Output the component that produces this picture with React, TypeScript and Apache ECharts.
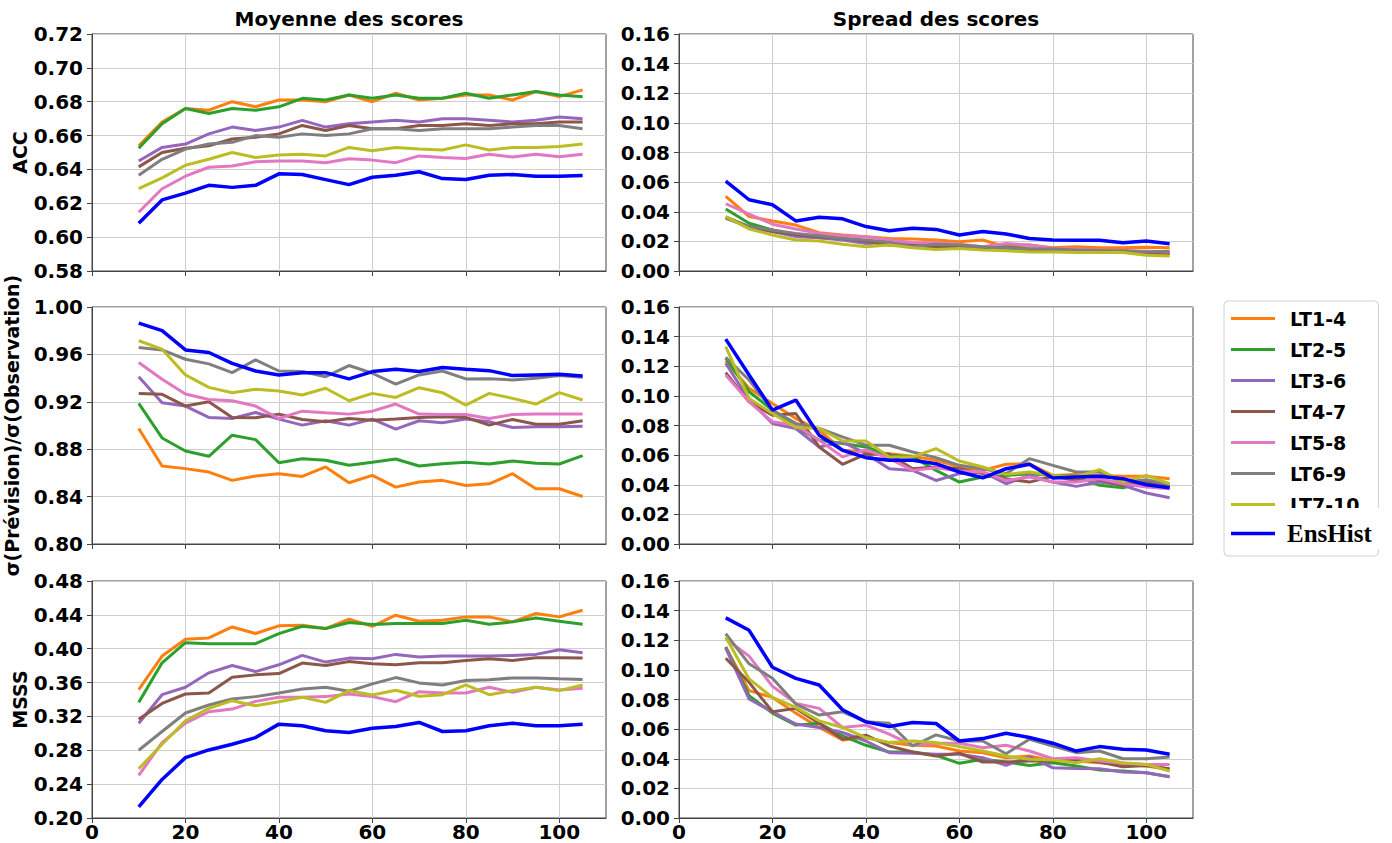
import React, { useEffect, useRef } from "react";
import * as echarts from "echarts";

const leadTimes = [10, 15, 20, 25, 30, 35, 40, 45, 50, 55, 60, 65, 70, 75, 80, 85, 90, 95, 100, 105];
const seriesNames = ["LT1-4", "LT2-5", "LT3-6", "LT4-7", "LT5-8", "LT6-9", "LT7-10", "EnsHist"];
const seriesColors = ["#ff7f0e", "#2ca02c", "#9467bd", "#8c564b", "#e377c2", "#7f7f7f", "#bcbd22", "#0000ff"];
const columnTitles = ["Moyenne des scores", "Spread des scores"];
const rowLabels = ["ACC", "σ(Prévision)/σ(Observation)", "MSSS"];

// rows follow seriesNames order
const accMean = [
  [0.654, 0.668, 0.676, 0.675, 0.680, 0.677, 0.681, 0.681, 0.680, 0.684, 0.680, 0.685, 0.681, 0.682, 0.684, 0.684, 0.681, 0.686, 0.683, 0.687],
  [0.6525, 0.667, 0.676, 0.673, 0.676, 0.675, 0.677, 0.682, 0.681, 0.684, 0.682, 0.684, 0.682, 0.682, 0.685, 0.682, 0.684, 0.686, 0.684, 0.683],
  [0.645, 0.653, 0.655, 0.661, 0.665, 0.663, 0.665, 0.669, 0.665, 0.667, 0.668, 0.669, 0.668, 0.670, 0.670, 0.669, 0.668, 0.669, 0.671, 0.670],
  [0.6415, 0.650, 0.6525, 0.654, 0.658, 0.659, 0.661, 0.666, 0.663, 0.666, 0.664, 0.664, 0.666, 0.666, 0.667, 0.666, 0.667, 0.667, 0.668, 0.668],
  [0.6147, 0.6286, 0.636, 0.6413, 0.642, 0.6445, 0.645, 0.645, 0.644, 0.6463, 0.6455, 0.644, 0.648, 0.647, 0.6465, 0.649, 0.6473, 0.649, 0.6475, 0.649],
  [0.6366, 0.646, 0.652, 0.655, 0.656, 0.660, 0.659, 0.661, 0.660, 0.661, 0.664, 0.664, 0.663, 0.664, 0.664, 0.664, 0.665, 0.666, 0.666, 0.664],
  [0.6286, 0.635, 0.6425, 0.646, 0.650, 0.647, 0.6485, 0.649, 0.648, 0.653, 0.651, 0.653, 0.652, 0.6515, 0.6545, 0.6515, 0.653, 0.653, 0.6535, 0.655],
  [0.6082, 0.622, 0.626, 0.6306, 0.6294, 0.6306, 0.6374, 0.637, 0.634, 0.631, 0.6354, 0.6366, 0.6386, 0.6346, 0.634, 0.6366, 0.637, 0.636, 0.636, 0.6364],
];

const accSpread = [
  [0.0504, 0.0368, 0.0338, 0.031, 0.0259, 0.0243, 0.0232, 0.022, 0.0216, 0.0209, 0.0198, 0.0209, 0.0163, 0.0175, 0.0157, 0.0163, 0.0157, 0.0157, 0.016, 0.0157],
  [0.0418, 0.0322, 0.0277, 0.0243, 0.0225, 0.0216, 0.0202, 0.0198, 0.0175, 0.0163, 0.0157, 0.0152, 0.0163, 0.0148, 0.0148, 0.0141, 0.0138, 0.0134, 0.0125, 0.0118],
  [0.0361, 0.0293, 0.0266, 0.0232, 0.0225, 0.0209, 0.0186, 0.0193, 0.018, 0.0175, 0.0163, 0.0152, 0.0157, 0.0148, 0.0141, 0.0134, 0.0134, 0.0129, 0.0125, 0.0118],
  [0.0365, 0.030, 0.0266, 0.0247, 0.0232, 0.022, 0.0202, 0.0175, 0.017, 0.0163, 0.0163, 0.0157, 0.0141, 0.0141, 0.0145, 0.0136, 0.0138, 0.0129, 0.0118, 0.0118],
  [0.0454, 0.0384, 0.0316, 0.0284, 0.0254, 0.0238, 0.0232, 0.0209, 0.0193, 0.0191, 0.018, 0.0163, 0.0186, 0.0175, 0.0152, 0.0148, 0.0141, 0.0138, 0.0134, 0.0129],
  [0.0356, 0.030, 0.0277, 0.0254, 0.0238, 0.022, 0.0209, 0.0193, 0.0163, 0.018, 0.0175, 0.0163, 0.0152, 0.0148, 0.0148, 0.0141, 0.0138, 0.0136, 0.0129, 0.0134],
  [0.0368, 0.0284, 0.0243, 0.0209, 0.0202, 0.018, 0.0163, 0.0175, 0.0157, 0.0145, 0.0152, 0.0141, 0.0136, 0.0129, 0.0129, 0.0125, 0.0125, 0.0125, 0.0107, 0.0102],
  [0.0606, 0.0481, 0.0447, 0.0338, 0.0363, 0.0352, 0.030, 0.0272, 0.0288, 0.0281, 0.0243, 0.0266, 0.025, 0.022, 0.0209, 0.0207, 0.0207, 0.0191, 0.0202, 0.0184],
];

const sigmaMean = [
  [0.8975, 0.8658, 0.8636, 0.8607, 0.8537, 0.8573, 0.8593, 0.857, 0.865, 0.8517, 0.8579, 0.848, 0.8523, 0.8537, 0.8494, 0.8508, 0.8593, 0.8466, 0.8466, 0.8401],
  [0.9186, 0.8895, 0.8785, 0.874, 0.8918, 0.8881, 0.8686, 0.872, 0.8706, 0.8664, 0.8689, 0.8717, 0.8658, 0.8678, 0.8689, 0.8675, 0.87, 0.8681, 0.8675, 0.8746],
  [0.9412, 0.9192, 0.9164, 0.9068, 0.9059, 0.911, 0.9054, 0.9003, 0.904, 0.9003, 0.9054, 0.8969, 0.904, 0.9023, 0.9054, 0.9031, 0.8983, 0.8989, 0.8989, 0.8994],
  [0.9271, 0.9263, 0.9164, 0.9201, 0.9068, 0.9065, 0.9096, 0.9051, 0.9031, 0.9059, 0.9045, 0.9054, 0.9068, 0.9073, 0.9068, 0.9003, 0.9051, 0.9011, 0.9011, 0.904],
  [0.9531, 0.939, 0.9266, 0.922, 0.9209, 0.9164, 0.9059, 0.9121, 0.9107, 0.9096, 0.9121, 0.9181, 0.9096, 0.9093, 0.9093, 0.9059, 0.9093, 0.9096, 0.9096, 0.9096],
  [0.9658, 0.9638, 0.9559, 0.952, 0.9446, 0.9554, 0.946, 0.9455, 0.9412, 0.9506, 0.9441, 0.935, 0.9427, 0.946, 0.9393, 0.9395, 0.9384, 0.9398, 0.9421, 0.9407],
  [0.9715, 0.9644, 0.9427, 0.9322, 0.9277, 0.9305, 0.9291, 0.9257, 0.9314, 0.9209, 0.9271, 0.9237, 0.9319, 0.9277, 0.9172, 0.9271, 0.9229, 0.9181, 0.9277, 0.9215],
  [0.9864, 0.980, 0.9638, 0.9616, 0.9525, 0.946, 0.9427, 0.9446, 0.9446, 0.9393, 0.9455, 0.9475, 0.9455, 0.9489, 0.9475, 0.9463, 0.9421, 0.9427, 0.9432, 0.9418],
];

const sigmaSpread = [
  [0.1236, 0.1051, 0.0949, 0.0847, 0.0768, 0.0633, 0.0621, 0.061, 0.0592, 0.0565, 0.052, 0.0497, 0.0538, 0.0542, 0.0463, 0.047, 0.0463, 0.0457, 0.0457, 0.0441],
  [0.1254, 0.1028, 0.0904, 0.0791, 0.0701, 0.0678, 0.0655, 0.0599, 0.0588, 0.0497, 0.0418, 0.0452, 0.0463, 0.0475, 0.0463, 0.0457, 0.0396, 0.038, 0.0418, 0.038],
  [0.122, 0.0972, 0.0814, 0.078, 0.0655, 0.0689, 0.061, 0.0508, 0.0497, 0.0429, 0.0475, 0.0486, 0.0407, 0.0463, 0.0418, 0.0389, 0.0418, 0.0396, 0.0344, 0.0312],
  [0.1157, 0.096, 0.087, 0.0881, 0.0655, 0.0538, 0.0606, 0.0606, 0.0508, 0.052, 0.0508, 0.0475, 0.0441, 0.0418, 0.0457, 0.0429, 0.0434, 0.0396, 0.0418, 0.0389],
  [0.1141, 0.096, 0.0825, 0.0802, 0.0701, 0.0588, 0.0637, 0.0576, 0.0497, 0.0515, 0.0493, 0.0486, 0.0429, 0.0452, 0.0418, 0.0418, 0.0441, 0.0407, 0.0384, 0.0373],
  [0.1261, 0.1107, 0.0904, 0.0814, 0.078, 0.0723, 0.0667, 0.0667, 0.0621, 0.0583, 0.0531, 0.0508, 0.0475, 0.0576, 0.0531, 0.0486, 0.0486, 0.0418, 0.0434, 0.04],
  [0.1333, 0.0983, 0.0881, 0.0786, 0.078, 0.0696, 0.0696, 0.0588, 0.0588, 0.0644, 0.056, 0.052, 0.047, 0.0486, 0.0463, 0.0452, 0.0502, 0.0418, 0.0463, 0.0407],
  [0.1383, 0.1141, 0.0904, 0.0972, 0.0734, 0.0633, 0.0583, 0.0565, 0.0565, 0.0542, 0.0486, 0.0447, 0.0508, 0.0538, 0.0445, 0.0452, 0.0457, 0.0441, 0.04, 0.038],
];

const msssMean = [
  [0.3517, 0.3913, 0.4111, 0.4127, 0.4257, 0.418, 0.427, 0.4277, 0.4238, 0.4349, 0.4265, 0.4396, 0.4325, 0.4337, 0.4376, 0.4376, 0.4317, 0.4416, 0.4376, 0.4455],
  [0.3366, 0.3834, 0.4071, 0.406, 0.406, 0.406, 0.4178, 0.4265, 0.4238, 0.4309, 0.4285, 0.4297, 0.4297, 0.4297, 0.4337, 0.4289, 0.4317, 0.4364, 0.4325, 0.4289],
  [0.312, 0.3457, 0.3545, 0.3715, 0.3802, 0.373, 0.381, 0.3921, 0.3842, 0.3889, 0.3881, 0.3933, 0.3901, 0.3913, 0.3913, 0.3913, 0.3921, 0.3933, 0.3988, 0.3952],
  [0.3168, 0.3354, 0.3465, 0.3477, 0.3663, 0.3691, 0.3707, 0.383, 0.3802, 0.385, 0.3822, 0.381, 0.3834, 0.3834, 0.3861, 0.3881, 0.3861, 0.3893, 0.3893, 0.3889],
  [0.2503, 0.2891, 0.312, 0.3255, 0.3287, 0.3378, 0.3426, 0.3426, 0.3434, 0.3465, 0.3434, 0.3374, 0.3493, 0.3477, 0.3477, 0.3545, 0.3485, 0.3545, 0.3513, 0.3533],
  [0.28, 0.3022, 0.324, 0.3335, 0.3406, 0.3434, 0.3477, 0.3525, 0.3545, 0.3497, 0.3584, 0.3659, 0.3596, 0.3572, 0.3624, 0.3632, 0.3655, 0.3655, 0.3644, 0.3636],
  [0.2582, 0.2871, 0.3149, 0.3295, 0.3386, 0.3327, 0.3374, 0.3426, 0.3366, 0.3505, 0.3453, 0.3509, 0.3438, 0.3457, 0.3572, 0.3457, 0.3505, 0.3545, 0.3505, 0.3572],
  [0.2131, 0.2455, 0.2713, 0.2804, 0.2871, 0.295, 0.3109, 0.3089, 0.303, 0.301, 0.3061, 0.3081, 0.3129, 0.3022, 0.303, 0.3089, 0.312, 0.3089, 0.3089, 0.3109],
];

const msssSpread = [
  [0.1154, 0.086, 0.0814, 0.0708, 0.0611, 0.0527, 0.0543, 0.0509, 0.0491, 0.0486, 0.0452, 0.0441, 0.0407, 0.0419, 0.0385, 0.0385, 0.0373, 0.0362, 0.0351, 0.0328],
  [0.1154, 0.0826, 0.0708, 0.0627, 0.064, 0.0554, 0.0491, 0.0446, 0.0446, 0.0423, 0.0369, 0.0396, 0.0378, 0.0355, 0.0373, 0.0351, 0.0324, 0.0317, 0.0305, 0.0278],
  [0.1147, 0.0803, 0.0717, 0.0634, 0.0611, 0.0577, 0.052, 0.0441, 0.0437, 0.043, 0.043, 0.0407, 0.0355, 0.0414, 0.0339, 0.0335, 0.0333, 0.031, 0.0305, 0.0278],
  [0.1079, 0.0916, 0.0717, 0.074, 0.064, 0.0532, 0.0559, 0.0486, 0.0446, 0.0419, 0.0437, 0.0378, 0.0378, 0.0385, 0.0385, 0.0396, 0.0378, 0.0346, 0.0355, 0.0333],
  [0.121, 0.1093, 0.0889, 0.0774, 0.074, 0.0611, 0.0627, 0.0566, 0.0491, 0.0505, 0.0505, 0.0475, 0.0491, 0.0452, 0.04, 0.0407, 0.0385, 0.0369, 0.0362, 0.0362],
  [0.1244, 0.1041, 0.0943, 0.0769, 0.0695, 0.0717, 0.0649, 0.064, 0.0486, 0.0561, 0.052, 0.052, 0.0434, 0.0532, 0.0486, 0.0441, 0.0452, 0.04, 0.04, 0.0412],
  [0.1222, 0.0939, 0.0814, 0.0747, 0.0656, 0.0611, 0.0543, 0.0509, 0.052, 0.0509, 0.0482, 0.0452, 0.0419, 0.0396, 0.0391, 0.0373, 0.04, 0.0373, 0.0362, 0.0317],
  [0.1351, 0.1267, 0.1018, 0.0943, 0.0898, 0.0731, 0.0649, 0.0618, 0.0645, 0.0638, 0.052, 0.0536, 0.0572, 0.0543, 0.0505, 0.0452, 0.0482, 0.0464, 0.0459, 0.043],
];

const xTickValues = [0, 20, 40, 60, 80, 100];

const FONT = "'DejaVu Sans', sans-serif";
const SERIF = "'Liberation Serif', 'DejaVu Serif', serif";

const panels = [
  { row: 0, col: 0, data: accMean, min: 0.58, max: 0.72, interval: 0.02 },
  { row: 0, col: 1, data: accSpread, min: 0, max: 0.16, interval: 0.02 },
  { row: 1, col: 0, data: sigmaMean, min: 0.8, max: 1.0, interval: 0.04 },
  { row: 1, col: 1, data: sigmaSpread, min: 0, max: 0.16, interval: 0.02 },
  { row: 2, col: 0, data: msssMean, min: 0.2, max: 0.48, interval: 0.04 },
  { row: 2, col: 1, data: msssSpread, min: 0, max: 0.16, interval: 0.02 },
];

const colLeft = [92, 679];
const colWidth = 514;
const rowTop = [34, 307, 581];
const rowHeight = 237;
const nameGaps = [62, 71, 62];

function buildOption() {
  const grids: any[] = [];
  const xAxes: any[] = [];
  const yAxes: any[] = [];
  const series: any[] = [];

  panels.forEach((p, i) => {
    grids.push({
      left: colLeft[p.col],
      top: rowTop[p.row],
      width: colWidth,
      height: rowHeight,
      show: true,
      borderColor: "#444",
      borderWidth: 1,
      backgroundColor: "transparent",
      containLabel: false,
    });
    xAxes.push({
      type: "value",
      gridIndex: i,
      min: 0,
      max: 110,
      interval: 20,
      axisLine: { show: true, onZero: false, lineStyle: { color: "#444", width: 1 } },
      axisTick: { show: true, length: 5, lineStyle: { color: "#444" }, customValues: xTickValues },
      axisLabel: {
        show: p.row === 2,
        customValues: xTickValues,
        fontSize: 20,
        fontWeight: "bold",
        fontFamily: FONT,
        color: "#000",
        margin: 4,
      },
      splitLine: { show: true, lineStyle: { color: "#cfcfcf", width: 1 } },
    });
    const yAxis: any = {
      type: "value",
      gridIndex: i,
      min: p.min,
      max: p.max,
      interval: p.interval,
      axisLine: { show: true, onZero: false, lineStyle: { color: "#444", width: 1 } },
      axisTick: { show: true, length: 5, lineStyle: { color: "#444" } },
      axisLabel: {
        formatter: (v: number) => v.toFixed(2),
        fontSize: 20,
        fontWeight: "bold",
        fontFamily: FONT,
        color: "#000",
        margin: 9,
      },
      splitLine: { show: true, lineStyle: { color: "#cfcfcf", width: 1 } },
    };
    if (p.col === 0) {
      yAxis.name = rowLabels[p.row];
      yAxis.nameLocation = "middle";
      yAxis.nameRotate = 90;
      yAxis.nameGap = nameGaps[p.row];
      yAxis.nameTextStyle = { fontSize: 19, fontWeight: "bold", fontFamily: FONT, color: "#000" };
    }
    yAxes.push(yAxis);

    p.data.forEach((vals, k) => {
      series.push({
        type: "line",
        name: seriesNames[k],
        xAxisIndex: i,
        yAxisIndex: i,
        data: leadTimes.map((x, j) => [x, vals[j]]),
        showSymbol: false,
        symbol: "none",
        silent: true,
        color: seriesColors[k],
        lineStyle: { width: k === 7 ? 3.5 : 3, color: seriesColors[k] },
        emphasis: { disabled: true },
      });
    });
  });

  return {
    animation: false,
    backgroundColor: "#ffffff",
    title: columnTitles.map((t, c) => ({
      text: t,
      left: colLeft[c] + colWidth / 2,
      top: 9,
      textAlign: "center",
      padding: 0,
      textStyle: { fontSize: 20, fontWeight: "bold", fontFamily: FONT, color: "#000" },
    })),
    legend: [
      {
        data: seriesNames.slice(0, 7),
        orient: "vertical",
        left: 1224,
        top: 301,
        padding: [8, 19, 42, 7],
        itemWidth: 44,
        itemHeight: 3,
        itemGap: 12,
        icon: "rect",
        borderColor: "#d0d0d0",
        borderWidth: 1,
        borderRadius: 4,
        backgroundColor: "#fff",
        selectedMode: false,
        z: 4,
        textStyle: { fontSize: 19, fontWeight: "bold", fontFamily: FONT, color: "#000", padding: [0, 0, 0, 10] },
      },
      {
        data: seriesNames.slice(7),
        orient: "vertical",
        left: 1226,
        top: 508,
        padding: [13, 10, 3, 5],
        itemWidth: 44,
        itemHeight: 3.5,
        icon: "rect",
        backgroundColor: "#fff",
        borderWidth: 0,
        selectedMode: false,
        z: 6,
        textStyle: { fontSize: 25, fontWeight: "bold", fontFamily: SERIF, color: "#000", padding: [0, 0, 0, 7] },
      },
    ],
    grid: grids,
    xAxis: xAxes,
    yAxis: yAxes,
    series,
  };
}

export default function App() {
  const ref = useRef<HTMLDivElement | null>(null);
  useEffect(() => {
    if (!ref.current) return;
    const chart = echarts.init(ref.current, undefined, { renderer: "svg" });
    chart.setOption(buildOption() as any);
    return () => chart.dispose();
  }, []);
  return (
    <div
      ref={ref}
      style={{ position: "fixed", left: 0, top: 0, width: 1392, height: 843, background: "#fff" }}
    />
  );
}
